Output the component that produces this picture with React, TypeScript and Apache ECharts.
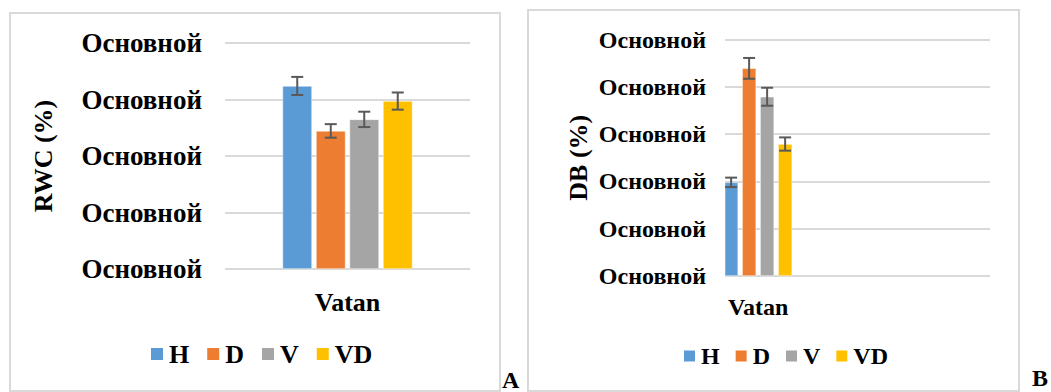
import React, { useEffect, useRef } from "react";
import * as echarts from "echarts";

const seriesNames = ["H", "D", "V", "VD"];
const seriesColors = ["#5B9BD5", "#ED7D31", "#A5A5A5", "#FFC000"];

const categoriesA = ["Vatan"];
const rwcValues = [81.0, 61.1, 66.2, 74.3];
const rwcErrors = [4.0, 3.0, 3.4, 3.8];
const yTickLabelsA = ["Основной", "Основной", "Основной", "Основной", "Основной"];

const categoriesB = ["Vatan", "", "", ""];
const dbValues = [19.8, 43.9, 37.9, 27.9];
const dbErrors = [1.0, 2.2, 1.9, 1.4];
const yTickLabelsB = ["Основной", "Основной", "Основной", "Основной", "Основной", "Основной"];

const FONT = "Liberation Serif";

const BAR_W_A = 29.5;
const GAP_A = 4;
const BAR_W_B = 14;
const GAP_B = 4;

function makeErrorRenderer(barW: number, gap: number) {
  return (params: any, api: any) => {
    const cat = api.value(0);
    const val = api.value(1);
    const err = api.value(2);
    const idx = api.value(3);
    const total = 4 * barW + 3 * gap;
    const off = -total / 2 + idx * (barW + gap) + barW / 2;
    const top = api.coord([cat, val + err]);
    const bot = api.coord([cat, val - err]);
    const x = top[0] + off;
    const cap = 6;
    const style = { stroke: "#595959", lineWidth: 2 };
    return {
      type: "group",
      children: [
        { type: "line", shape: { x1: x, y1: top[1], x2: x, y2: bot[1] }, style },
        { type: "line", shape: { x1: x - cap, y1: top[1], x2: x + cap, y2: top[1] }, style },
        { type: "line", shape: { x1: x - cap, y1: bot[1], x2: x + cap, y2: bot[1] }, style },
      ],
    };
  };
}

function buildOption(): any {
  const barsA = seriesNames.map((name, i) => ({
    name,
    type: "bar",
    xAxisIndex: 0,
    yAxisIndex: 0,
    barWidth: BAR_W_A,
    barGap: `${(GAP_A / BAR_W_A) * 100}%`,
    itemStyle: { color: seriesColors[i], borderColor: "#fff", borderWidth: 0.5 },
    data: [rwcValues[i]],
  }));
  const barsB = seriesNames.map((name, i) => ({
    name,
    type: "bar",
    xAxisIndex: 1,
    yAxisIndex: 1,
    barWidth: BAR_W_B,
    barGap: `${(GAP_B / BAR_W_B) * 100}%`,
    itemStyle: { color: seriesColors[i], borderColor: "#fff", borderWidth: 0.5 },
    data: [dbValues[i]],
  }));
  const errA = {
    type: "custom",
    xAxisIndex: 0,
    yAxisIndex: 0,
    renderItem: makeErrorRenderer(BAR_W_A, GAP_A),
    data: rwcValues.map((v, i) => [0, v, rwcErrors[i], i]),
    z: 10,
    silent: true,
  };
  const errB = {
    type: "custom",
    xAxisIndex: 1,
    yAxisIndex: 1,
    renderItem: makeErrorRenderer(BAR_W_B, GAP_B),
    data: dbValues.map((v, i) => [0, v, dbErrors[i], i]),
    z: 10,
    silent: true,
  };

  const labelStyle = (size: number) => ({
    fontFamily: FONT,
    fontWeight: "bold",
    fontSize: size,
    color: "#000",
  });

  return {
    animation: false,
    backgroundColor: "#fff",
    graphic: [
      {
        type: "rect",
        shape: { x: 10, y: 13, width: 490, height: 378 },
        style: { fill: "none", stroke: "#d9d9d9", lineWidth: 2 },
        silent: true,
      },
      {
        type: "rect",
        shape: { x: 528, y: 10, width: 491, height: 381 },
        style: { fill: "none", stroke: "#d9d9d9", lineWidth: 2 },
        silent: true,
      },
      {
        type: "text",
        left: 502,
        top: 368,
        style: { text: "A", fill: "#000", font: `bold 24px "${FONT}"` },
      },
      {
        type: "text",
        left: 1032,
        top: 366,
        style: { text: "B", fill: "#000", font: `bold 24px "${FONT}"` },
      },
    ],
    legend: [
      {
        data: seriesNames,
        left: 149,
        top: 341,
        padding: 0,
        icon: "rect",
        itemWidth: 14,
        itemHeight: 14,
        itemGap: 16,
        textStyle: labelStyle(26),
      },
      {
        data: seriesNames,
        left: 682,
        top: 344,
        padding: 0,
        icon: "rect",
        itemWidth: 13,
        itemHeight: 13,
        itemGap: 14,
        textStyle: labelStyle(24),
      },
    ],
    grid: [
      { left: 225, top: 43, width: 245, height: 226, containLabel: false },
      { left: 725, top: 39.5, width: 265, height: 236.5, containLabel: false },
    ],
    xAxis: [
      {
        type: "category",
        gridIndex: 0,
        data: categoriesA,
        axisLine: { show: false },
        axisTick: { show: false },
        axisLabel: { ...labelStyle(26), margin: 20 },
      },
      {
        type: "category",
        gridIndex: 1,
        data: categoriesB,
        axisLine: { show: false },
        axisTick: { show: false },
        axisLabel: { ...labelStyle(24), margin: 19 },
      },
    ],
    yAxis: [
      {
        type: "value",
        gridIndex: 0,
        min: 0,
        max: 100,
        interval: 25,
        name: "RWC (%)",
        nameLocation: "middle",
        nameGap: 169,
        nameTextStyle: labelStyle(26),
        axisLine: { show: false },
        axisTick: { show: false },
        splitLine: { lineStyle: { color: "#d9d9d9", width: 2 } },
        axisLabel: {
          ...labelStyle(27),
          margin: 23,
          formatter: (_v: number, i: number) => yTickLabelsA[i] ?? "",
        },
      },
      {
        type: "value",
        gridIndex: 1,
        min: 0,
        max: 50,
        interval: 10,
        name: "DB (%)",
        nameLocation: "middle",
        nameGap: 134,
        nameTextStyle: labelStyle(26),
        axisLine: { show: false },
        axisTick: { show: false },
        splitLine: { lineStyle: { color: "#d9d9d9", width: 2 } },
        axisLabel: {
          ...labelStyle(24),
          margin: 19,
          formatter: (_v: number, i: number) => yTickLabelsB[i] ?? "",
        },
      },
    ],
    series: [...barsA, ...barsB, errA, errB],
  };
}

export default function App() {
  const ref = useRef<HTMLDivElement>(null);
  useEffect(() => {
    if (!ref.current) return;
    const chart = echarts.init(ref.current, null, { renderer: "svg" });
    chart.setOption(buildOption());
    return () => chart.dispose();
  }, []);
  return (
    <div
      ref={ref}
      style={{ position: "fixed", left: 0, top: 0, width: 1051, height: 392, background: "#fff" }}
    />
  );
}
